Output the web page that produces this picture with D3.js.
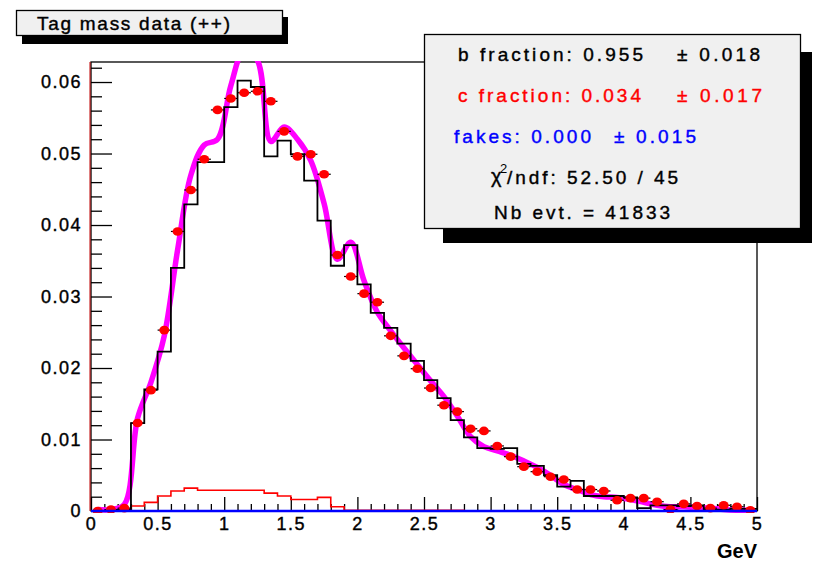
<!DOCTYPE html>
<html><head><meta charset="utf-8">
<script src="https://cdn.jsdelivr.net/npm/d3@7"></script>
<style>
body{margin:0;background:#fff;}
svg{display:block;font-family:"Liberation Sans",Arial,sans-serif;}
</style></head><body>
<svg id="c" width="814" height="562"></svg>
<script>
// ---------- data ----------
const binLow = 0, binWidth = 0.1;
// black histogram (per 0.1 GeV bin, 0..5 GeV)
const dataHist = [0, 0, 0.0002, 0.0123, 0.0170, 0.0223, 0.0340, 0.0429, 0.0488, 0.0488,
  0.0565, 0.0602, 0.0593, 0.0496, 0.0518, 0.0499, 0.0462, 0.0406, 0.0343, 0.0372,
  0.0317, 0.0277, 0.0256, 0.0234, 0.0210, 0.0183, 0.0158, 0.0127, 0.0103, 0.0088,
  0.0087, 0.0088, 0.0066, 0.0063, 0.0050, 0.0034, 0.0042, 0.0021, 0.0021, 0.0021,
  0.0019, 0.0004, 0.0008, 0.0008, 0.0007, 0.0008, 0.0002, 0.0002, 0.0003, 0.0003];
// red c-component histogram
const cHist = [0, 0, 0.0002, 0.0007, 0.0012, 0.0021, 0.0028, 0.0032, 0.0029, 0.0029,
  0.0029, 0.0029, 0.0029, 0.0025, 0.0021, 0.0016, 0.0016, 0.0019, 0.0006, 0.0001,
  0.0001, 0.0001, 0.0001, 0.0001, 0.0001, 0.0001, 0.0001, 0.0001, 0, 0,
  0, 0, 0, 0, 0, 0, 0, 0, 0, 0,
  0, 0, 0, 0, 0, 0, 0, 0, 0, 0];
// blue fakes component
const fakesHist = [0, 0, 0, 0, 0, 0, 0, 0, 0, 0, 0, 0, 0, 0, 0, 0, 0, 0, 0, 0, 0, 0, 0, 0, 0,
  0, 0, 0, 0, 0, 0, 0, 0, 0, 0, 0, 0, 0, 0, 0, 0, 0, 0, 0, 0, 0, 0, 0, 0, 0];
// magenta fit (smooth curve through bin centres)
const fitCurve = [0.0002, 0.0002, 0.0009, 0.0130, 0.0180, 0.0245, 0.0365, 0.0470, 0.0512, 0.0520,
  0.0595, 0.0645, 0.0630, 0.0517, 0.0537, 0.0520, 0.0490, 0.0430, 0.0352, 0.0376,
  0.0322, 0.0278, 0.0252, 0.0228, 0.0205, 0.0182, 0.0160, 0.0133, 0.0104, 0.0090,
  0.0084, 0.0078, 0.0070, 0.0061, 0.0050, 0.0037, 0.0030, 0.0023, 0.0020, 0.0019,
  0.0016, 0.0012, 0.0008, 0.0006, 0.0006, 0.0005, 0.0004, 0.0002, 0.0001, 0.0001];
// red data points (bin centres)
const dataPoints = [0, 0.0002, 0.0004, 0.0123, 0.0169, 0.0253, 0.0391, 0.0449, 0.0492, 0.0561,
  0.0577, 0.0585, 0.0587, 0.0573, 0.0531, 0.0496, 0.0499, 0.0471, 0.0358, 0.0328,
  0.0304, 0.0292, 0.0245, 0.0217, 0.0199, 0.0172, 0.0148, 0.0139, 0.0115, 0.0112,
  0.0091, 0.0076, 0.0062, 0.0055, 0.0048, 0.0044, 0.0030, 0.0030, 0.0028, 0.0015,
  0.0018, 0.0018, 0.0013, 0.0002, 0.0010, 0.0007, 0.0004, 0.0008, 0.0006, 0.0001];

const xTicks = [0, 0.5, 1, 1.5, 2, 2.5, 3, 3.5, 4, 4.5, 5];
const xTickLabels = ["0", "0.5", "1", "1.5", "2", "2.5", "3", "3.5", "4", "4.5", "5"];
const yTicks = [0, 0.01, 0.02, 0.03, 0.04, 0.05, 0.06];
const yTickLabels = ["0", "0.01", "0.02", "0.03", "0.04", "0.05", "0.06"];
const xDomain = [0, 5];
const yDomain = [0, 0.0628];
const xTitle = "GeV";
const title = "Tag mass data (++)";
const statB = ["b fraction: 0.955", "± 0.018"];
const statC = ["c fraction: 0.034", "± 0.017"];
const statF = ["fakes: 0.000", "± 0.015"];
const statChi = ["χ", "2", "/ndf: 52.50 / 45"];
const statN = "Nb evt. = 41833";

// ---------- layout ----------
const L = 91, R = 757, T = 62, B = 511;
const svg = d3.select("#c");
const x = d3.scaleLinear().domain(xDomain).range([L, R]);
const y = d3.scaleLinear().domain(yDomain).range([B, T]);

svg.append("defs").append("clipPath").attr("id", "pc")
  .append("rect").attr("x", L).attr("y", T - 1).attr("width", R - L).attr("height", B - T + 3);

const edges = dataHist.map((d, i) => binLow + i * binWidth);
const centers = dataHist.map((d, i) => binLow + (i + 0.5) * binWidth);
const xEnd = binLow + dataHist.length * binWidth;

const stepLine = d3.line().x(d => x(d[0])).y(d => y(d[1])).curve(d3.curveStepAfter);
function stepPts(h) {
  const p = [[edges[0], 0]];
  h.forEach((v, i) => p.push([edges[i], v]));
  p.push([xEnd, h[h.length - 1]]);
  return p;
}

const plot = svg.append("g").attr("clip-path", "url(#pc)");

// c component
plot.append("path").attr("d", stepLine(stepPts(cHist)))
  .attr("fill", "none").attr("stroke", "#ff0000").attr("stroke-width", 1.6);

// fit
const fitLine = d3.line().x((d, i) => x(centers[i])).y(d => y(d)).curve(d3.curveCatmullRom.alpha(0.5));
plot.append("path").attr("d", fitLine(fitCurve))
  .attr("fill", "none").attr("stroke", "#ff00ff").attr("stroke-width", 5.5)
  .attr("stroke-linejoin", "round");

// black histogram
plot.append("path").attr("d", stepLine(stepPts(dataHist)))
  .attr("fill", "none").attr("stroke", "#000").attr("stroke-width", 1.8);

// data points
const pts = plot.append("g");
pts.selectAll("line").data(dataPoints).join("line")
  .attr("x1", (d, i) => x(centers[i] - binWidth / 2)).attr("x2", (d, i) => x(centers[i] + binWidth / 2))
  .attr("y1", d => y(d)).attr("y2", d => y(d))
  .attr("stroke", "#000").attr("stroke-width", 1.2);
pts.selectAll("ellipse").data(dataPoints).join("ellipse")
  .attr("cx", (d, i) => x(centers[i])).attr("cy", d => y(d))
  .attr("rx", 5).attr("ry", 4.3).attr("fill", "#ff0000");

// axes
const axFont = g => g.selectAll("text").attr("font-size", 18).attr("fill", "#000")
  .attr("stroke", "#000").attr("stroke-width", 0.4)
  .attr("font-family", "Liberation Sans, Arial, sans-serif").style("letter-spacing", "1.5px");

const xMinor = d3.range(0, 51).map(i => i * 0.1).filter(v => Math.abs(v * 2 - Math.round(v * 2)) > 1e-6);
const gxMin = svg.append("g").attr("transform", `translate(0,${B})`)
  .call(d3.axisBottom(x).tickValues(xMinor).tickSize(-7).tickFormat(""));
const gx = svg.append("g").attr("transform", `translate(0,${B})`)
  .call(d3.axisBottom(x).tickValues(xTicks).tickSizeInner(-14).tickSizeOuter(0).tickPadding(6)
    .tickFormat((d, i) => xTickLabels[i]));
gx.call(axFont);

const yMinor = d3.range(0, 32).map(i => i * 0.002).filter(v => v <= yDomain[1] && Math.abs(v * 100 - Math.round(v * 100)) > 1e-6);
const gyMin = svg.append("g").attr("transform", `translate(${L},0)`)
  .call(d3.axisLeft(y).tickValues(yMinor).tickSize(-11).tickFormat(""));
const gy = svg.append("g").attr("transform", `translate(${L},0)`)
  .call(d3.axisLeft(y).tickValues(yTicks).tickSizeInner(-21).tickSizeOuter(0).tickPadding(9)
    .tickFormat((d, i) => yTickLabels[i]));
gy.call(axFont);
[gx, gxMin, gy, gyMin].forEach(g => {
  g.select(".domain").remove();
  g.selectAll("line").attr("stroke", "#000").attr("stroke-width", 1.3);
});

// frame
svg.append("rect").attr("x", L).attr("y", T).attr("width", R - L).attr("height", B - T)
  .attr("fill", "none").attr("stroke", "#000").attr("stroke-width", 1.3);
svg.append("line").attr("x1", L - 1).attr("x2", L - 1).attr("y1", T).attr("y2", B)
  .attr("stroke", "#c00000").attr("stroke-width", 1);

// fakes (blue) along zero
plot.append("path").attr("d", stepLine(stepPts(fakesHist)))
  .attr("fill", "none").attr("stroke", "#0000ff").attr("stroke-width", 2.4);
svg.node().appendChild(plot.node());

// x title
svg.append("text").attr("x", R).attr("y", 558).attr("text-anchor", "end")
  .attr("font-size", 20).attr("font-weight", "bold").text(xTitle);

// ---------- title box ----------
svg.append("rect").attr("x", 22).attr("y", 17).attr("width", 266).attr("height", 27).attr("fill", "#000");
svg.append("rect").attr("x", 16.5).attr("y", 10.5).attr("width", 266).attr("height", 25)
  .attr("fill", "#f0f0f0").attr("stroke", "#000").attr("stroke-width", 1.3);
svg.append("text").attr("x", 37).attr("y", 30).attr("font-size", 19)
  .attr("stroke", "#000").attr("stroke-width", 0.4)
  .attr("textLength", 193).attr("lengthAdjust", "spacing").text(title);

// ---------- stats box ----------
svg.append("rect").attr("x", 443).attr("y", 52).attr("width", 369).attr("height", 191).attr("fill", "#000");
svg.append("rect").attr("x", 424.5).attr("y", 34.5).attr("width", 376).attr("height", 194)
  .attr("fill", "#f0f0f0").attr("stroke", "#000").attr("stroke-width", 1.3);

function stxt(s, xx, yy, len, col) {
  svg.append("text").attr("x", xx).attr("y", yy).attr("font-size", 19).attr("fill", col)
    .attr("stroke", col).attr("stroke-width", 0.4)
    .attr("textLength", len).attr("lengthAdjust", "spacing").text(s);
}
stxt(statB[0], 458, 61, 185, "#000");
stxt(statB[1], 677, 61, 83, "#000");
stxt(statC[0], 458, 102, 183, "#ff0000");
stxt(statC[1], 677, 102, 85, "#ff0000");
stxt(statF[0], 454, 143, 137, "#0000ff");
stxt(statF[1], 614, 143, 82, "#0000ff");
svg.append("text").attr("x", 491).attr("y", 183).attr("font-size", 20)
  .attr("stroke", "#000").attr("stroke-width", 0.4).text(statChi[0]);
svg.append("text").attr("x", 500).attr("y", 173).attr("font-size", 13).text(statChi[1]);
stxt(statChi[2], 507, 184, 171, "#000");
stxt(statN, 494, 219, 176, "#000");
</script>
</body></html>
